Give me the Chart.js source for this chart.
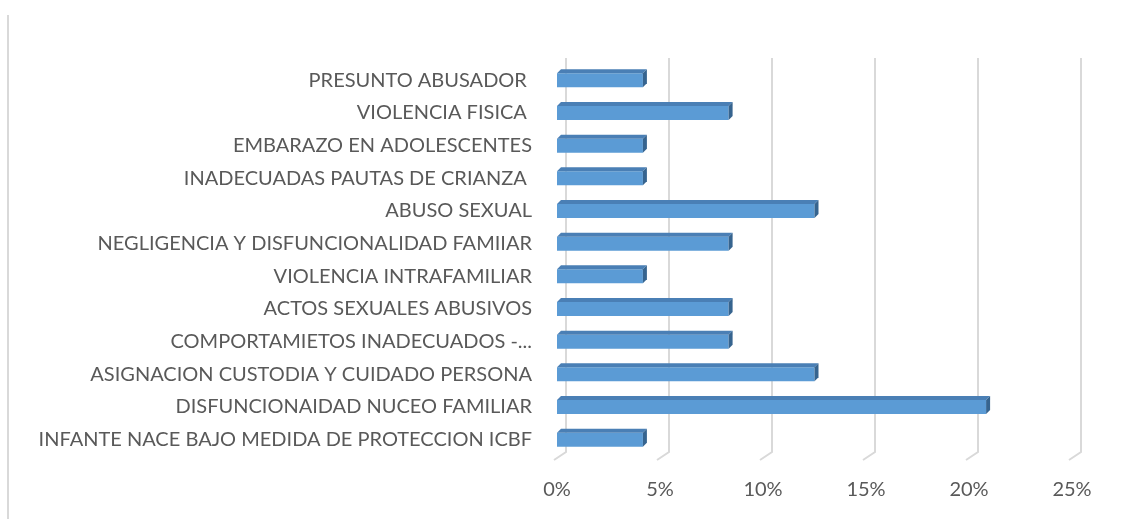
<!DOCTYPE html>
<html>
<head>
<meta charset="utf-8">
<script src="https://cdn.jsdelivr.net/npm/chart.js@4.4.0/dist/chart.umd.min.js"></script>
<style>
    body { margin: 0; background: #fff; }
    #wrap { position: relative; width: 1126px; height: 519px; }
    #frame { position: absolute; left: 7px; top: 15px; bottom: 0; border-left: 2px solid #d9d9d9; }
</style>
</head>
<body>
<div id="wrap">
    <div id="frame"></div>
    <canvas id="casesChart"></canvas>
</div>
<script>
//Categories, top to bottom as in the original
let categories = [
    'PRESUNTO ABUSADOR ',
    'VIOLENCIA FISICA ',
    'EMBARAZO EN ADOLESCENTES',
    'INADECUADAS PAUTAS DE CRIANZA ',
    'ABUSO SEXUAL',
    'NEGLIGENCIA Y DISFUNCIONALIDAD FAMIIAR',
    'VIOLENCIA INTRAFAMILIAR',
    'ACTOS SEXUALES ABUSIVOS',
    'COMPORTAMIETOS INADECUADOS -...',
    'ASIGNACION CUSTODIA Y CUIDADO PERSONA',
    'DISFUNCIONAIDAD NUCEO FAMILIAR',
    'INFANTE NACE BAJO MEDIDA DE PROTECCION ICBF'
];

//Share of cases, in percent
let percentValues = [4.17, 8.33, 4.17, 4.17, 12.5, 8.33, 4.17, 8.33, 8.33, 12.5, 20.83, 4.17];

//Axis ticks
let tickValues = [0, 5, 10, 15, 20, 25];

let fontFamily = 'Lato, "Open Sans", sans-serif';
let textColor = '#595959';

//Back wall gridlines with the little 3D floor step at the bottom
const wallGrid = {
    id: 'wallGrid',
    beforeDatasetsDraw: function (chart) {
        let ctx = chart.ctx;
        let xScale = chart.scales.x;
        let area = chart.chartArea;
        ctx.save();
        ctx.strokeStyle = '#d9d9d9';
        ctx.lineWidth = 2;
        for (let i = 0; i < tickValues.length; i++) {
            let px = xScale.getPixelForValue(tickValues[i]);
            ctx.beginPath();
            ctx.moveTo(px + 9, area.top - 6);
            ctx.lineTo(px + 9, area.bottom - 4);
            ctx.lineTo(px - 3, area.bottom + 4);
            ctx.stroke();
        }
        ctx.restore();
    }
};

//Top and end faces so the bars look like the Excel 3D bars
const barFaces = {
    id: 'barFaces',
    afterDatasetsDraw: function (chart) {
        let ctx = chart.ctx;
        let bars = chart.getDatasetMeta(0).data;
        let d = 4;
        ctx.save();
        for (let i = 0; i < bars.length; i++) {
            let bar = bars[i];
            let top = bar.y - bar.height / 2;
            let bottom = bar.y + bar.height / 2;

            ctx.fillStyle = '#4a7fb5';
            ctx.beginPath();
            ctx.moveTo(bar.base, top);
            ctx.lineTo(bar.base + d, top - d);
            ctx.lineTo(bar.x + d, top - d);
            ctx.lineTo(bar.x, top);
            ctx.closePath();
            ctx.fill();

            ctx.fillStyle = '#36648f';
            ctx.beginPath();
            ctx.moveTo(bar.x, top);
            ctx.lineTo(bar.x + d, top - d);
            ctx.lineTo(bar.x + d, bottom - d);
            ctx.lineTo(bar.x, bottom);
            ctx.closePath();
            ctx.fill();
        }
        ctx.restore();
    }
};

new Chart(
    document.getElementById('casesChart'),
    {
        type: 'bar',
        data: {
            labels: categories,
            datasets: [
                {
                    data: percentValues,
                    backgroundColor: '#5b9bd5',
                    borderWidth: 0,
                    categoryPercentage: 1,
                    barPercentage: 0.43
                }
            ]
        },
        options: {
            indexAxis: 'y',
            responsive: true,
            maintainAspectRatio: false,
            animation: false,
            layout: {
                padding: { top: 64, right: 54, bottom: 0, left: 0 }
            },
            plugins: {
                legend: { display: false },
                tooltip: { enabled: false }
            },
            scales: {
                x: {
                    min: 0,
                    max: 25,
                    afterBuildTicks: function (scale) {
                        scale.ticks = tickValues.map(v => ({ value: v }));
                    },
                    afterFit: function (scale) {
                        scale.height = 63;
                    },
                    grid: { display: false, drawTicks: false },
                    border: { display: false },
                    ticks: {
                        padding: 22,
                        color: textColor,
                        font: { family: fontFamily, size: 20 },
                        callback: function (value) {
                            return value + '%';
                        }
                    }
                },
                y: {
                    afterFit: function (scale) {
                        scale.width = 557;
                    },
                    grid: { display: false, drawTicks: false },
                    border: { display: false },
                    ticks: {
                        padding: 25,
                        autoSkip: false,
                        color: textColor,
                        font: { family: fontFamily, size: 20 }
                    }
                }
            }
        },
        plugins: [wallGrid, barFaces]
    }
);
</script>
</body>
</html>
